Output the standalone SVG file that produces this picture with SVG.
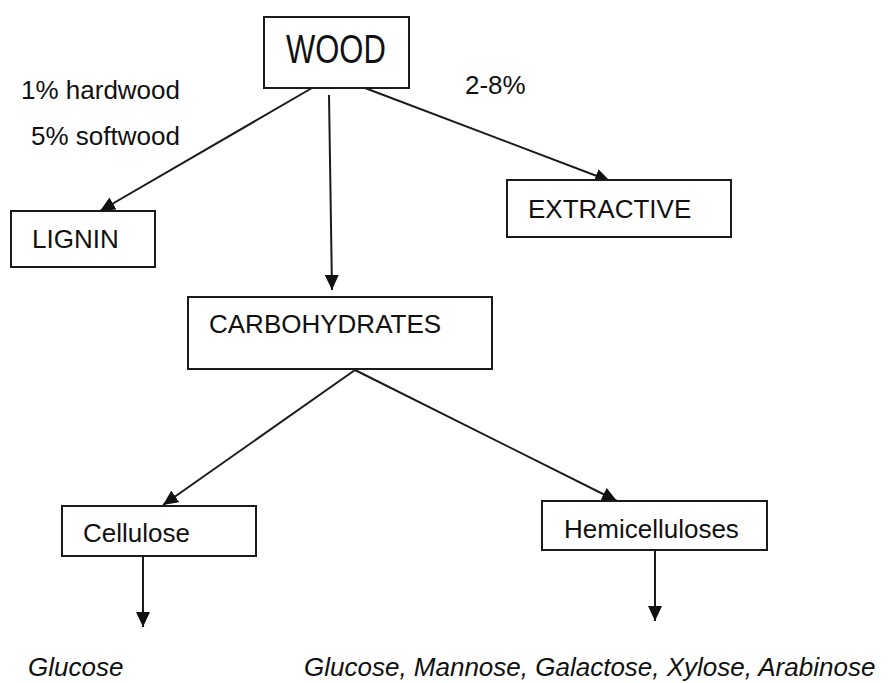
<svg xmlns="http://www.w3.org/2000/svg" width="891" height="683" viewBox="0 0 891 683">
  <style>
    .box { fill: #ffffff; stroke: #1a1a1a; stroke-width: 2; }
    .lbl { font-family: "Liberation Sans", Arial, sans-serif; font-size: 26px; fill: #111111; }
    .it { font-style: italic; }
    .edge { stroke: #1a1a1a; stroke-width: 2; fill: none; marker-end: url(#head); }
  </style>
  <defs>
    <marker id="head" viewBox="0 0 15 14" refX="15" refY="7" markerWidth="15" markerHeight="14" markerUnits="userSpaceOnUse" orient="auto">
      <path d="M0,0 L15,7 L0,14 Z" fill="#111111"/>
    </marker>
  </defs>
  <rect width="891" height="683" fill="#ffffff"/>

  <!-- connectors -->
  <g id="connectors">
    <line class="edge" x1="312" y1="88" x2="100" y2="211"/>
    <line class="edge" x1="329" y1="95" x2="332" y2="290"/>
    <line class="edge" x1="365" y1="88" x2="610" y2="181"/>
    <line class="edge" x1="355" y1="370" x2="163" y2="505"/>
    <line class="edge" x1="355" y1="370" x2="617" y2="501"/>
    <line class="edge" x1="143" y1="556" x2="143" y2="627"/>
    <line class="edge" x1="655" y1="550" x2="655" y2="621"/>
  </g>

  <!-- nodes -->
  <g id="wood">
    <rect class="box" x="264" y="17" width="145" height="71"/>
    <text class="lbl" transform="translate(286 63) scale(1 1.33)" style="font-size:31px">WOOD</text>
  </g>
  <g id="lignin">
    <rect class="box" x="11" y="211" width="144" height="56"/>
    <text class="lbl" x="32" y="248">LIGNIN</text>
  </g>
  <g id="extractive">
    <rect class="box" x="507" y="180" width="224" height="57"/>
    <text class="lbl" x="528" y="218">EXTRACTIVE</text>
  </g>
  <g id="carbohydrates">
    <rect class="box" x="188" y="297" width="304" height="72"/>
    <text class="lbl" x="209" y="333">CARBOHYDRATES</text>
  </g>
  <g id="cellulose">
    <rect class="box" x="62" y="506" width="194" height="50"/>
    <text class="lbl" x="83" y="542">Cellulose</text>
  </g>
  <g id="hemicelluloses">
    <rect class="box" x="542" y="501" width="225" height="49"/>
    <text class="lbl" x="564" y="538">Hemicelluloses</text>
  </g>

  <!-- edge annotations and products -->
  <g id="annotations">
    <text class="lbl" x="21" y="99">1% hardwood</text>
    <text class="lbl" x="31" y="145">5% softwood</text>
    <text class="lbl" x="465" y="94">2-8%</text>
  </g>
  <g id="products">
    <text class="lbl it" x="28" y="676">Glucose</text>
    <text class="lbl it" x="304" y="676">Glucose, Mannose, Galactose, Xylose, Arabinose</text>
  </g>
</svg>
